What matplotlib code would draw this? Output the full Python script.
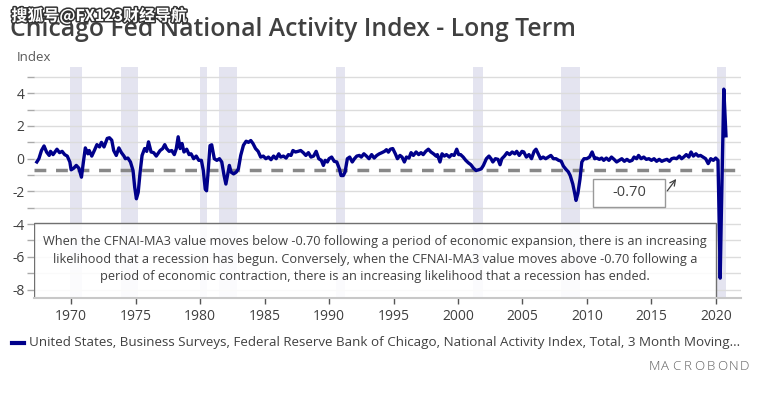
import matplotlib
matplotlib.use("Agg")
import matplotlib.pyplot as plt
import matplotlib.patheffects as pe
from matplotlib.patches import Rectangle

# CFNAI-MA3 (decimal year, index value)
years = [1967.34, 1967.5, 1967.7, 1967.9, 1968.1, 1968.3, 1968.4, 1968.6, 1968.9, 1969.1,
         1969.3, 1969.5, 1969.7, 1969.9, 1970.0, 1970.2, 1970.4, 1970.6, 1970.8, 1970.95,
         1971.1, 1971.3, 1971.4, 1971.6, 1971.8, 1972.0, 1972.2, 1972.35, 1972.55, 1972.8,
         1972.97, 1973.15, 1973.3, 1973.5, 1973.7, 1973.9, 1974.1, 1974.2, 1974.4, 1974.6,
         1974.8, 1974.93, 1975.06, 1975.2, 1975.35, 1975.5, 1975.7, 1975.86, 1976.0, 1976.2,
         1976.4, 1976.6, 1976.9, 1977.1, 1977.26, 1977.4, 1977.6, 1977.8, 1978.0, 1978.15,
         1978.3, 1978.45, 1978.6, 1978.75, 1978.96, 1979.15, 1979.3, 1979.5, 1979.7, 1979.9,
         1980.1, 1980.25, 1980.4, 1980.5, 1980.6, 1980.77, 1980.9, 1981.1, 1981.3, 1981.5,
         1981.68, 1981.86, 1982.0, 1982.15, 1982.27, 1982.4, 1982.6, 1982.8, 1982.97, 1983.15,
         1983.36, 1983.57, 1983.75, 1983.93, 1984.1, 1984.3, 1984.5, 1984.7, 1984.9, 1985.1,
         1985.3, 1985.5, 1985.7, 1985.9, 1986.1, 1986.25, 1986.46, 1986.67, 1986.85, 1987.05,
         1987.2, 1987.4, 1987.6, 1987.8, 1988.0, 1988.2, 1988.4, 1988.6, 1988.8, 1989.0,
         1989.2, 1989.4, 1989.56, 1989.7, 1989.87, 1990.0, 1990.2, 1990.4, 1990.6, 1990.8,
         1990.93, 1991.1, 1991.24, 1991.42, 1991.6, 1991.8, 1991.97, 1992.15, 1992.35, 1992.5,
         1992.7, 1992.9, 1993.1, 1993.3, 1993.5, 1993.7, 1993.9, 1994.1, 1994.3, 1994.45,
         1994.6, 1994.75, 1994.94, 1995.14, 1995.3, 1995.5, 1995.66, 1995.84, 1996.0, 1996.2,
         1996.36, 1996.54, 1996.75, 1996.95, 1997.13, 1997.3, 1997.5, 1997.7, 1997.9, 1998.1,
         1998.3, 1998.4, 1998.6, 1998.76, 1998.94, 1999.1, 1999.33, 1999.5, 1999.7, 1999.9,
         2000.05, 2000.2, 2000.4, 2000.6, 2000.8, 2001.0, 2001.2, 2001.4, 2001.6, 2001.8,
         2001.97, 2002.2, 2002.4, 2002.56, 2002.7, 2002.9, 2003.1, 2003.26, 2003.4, 2003.6,
         2003.8, 2004.0, 2004.2, 2004.4, 2004.55, 2004.75, 2004.96, 2005.1, 2005.3, 2005.5,
         2005.7, 2005.9, 2006.05, 2006.25, 2006.4, 2006.6, 2006.8, 2007.0, 2007.2, 2007.4,
         2007.6, 2007.8, 2008.0, 2008.17, 2008.37, 2008.55, 2008.7, 2008.9, 2009.07, 2009.15,
         2009.3, 2009.46, 2009.6, 2009.77, 2009.98, 2010.2, 2010.4, 2010.6, 2010.75, 2010.96,
         2011.14, 2011.3, 2011.5, 2011.7, 2011.9, 2012.1, 2012.3, 2012.5, 2012.7, 2012.9,
         2013.1, 2013.3, 2013.5, 2013.65, 2013.85, 2014.0, 2014.2, 2014.4, 2014.6, 2014.8,
         2015.0, 2015.2, 2015.4, 2015.6, 2015.8, 2015.97, 2016.2, 2016.4, 2016.57, 2016.75,
         2016.95, 2017.16, 2017.34, 2017.5, 2017.7, 2017.9, 2018.07, 2018.25, 2018.45, 2018.63,
         2018.8, 2019.0, 2019.2, 2019.4, 2019.6, 2019.8, 2019.98, 2020.16, 2020.25, 2020.33,
         2020.42, 2020.52, 2020.61, 2020.78]
values = [-0.2, 0.0, 0.5, 0.78, 0.4, 0.2, 0.45, 0.25, 0.58, 0.37,
          0.45, 0.25, 0.16, -0.2, -0.68, -0.58, -0.41, -0.58, -1.13, -0.2,
          0.66, 0.3, 0.5, 0.16, 0.5, 0.86, 0.72, 1.0, 0.72, 1.24,
          1.28, 1.13, 0.5, 0.2, 0.66, 0.37, 0.16, 0.0, 0.04, -0.2,
          -0.72, -1.75, -2.45, -2.06, -0.82, 0.2, 0.62, 0.45, 1.03, 0.41,
          0.37, 0.16, 0.5, 0.62, 0.86, 0.62, 0.45, 0.5, 0.25, 0.6,
          1.34, 0.62, 0.93, 0.41, 0.58, 0.25, 0.3, 0.0, 0.16, -0.1,
          -0.1, -0.72, -1.86, -1.96, -1.03, 0.8, 0.85, 0.0, -0.1, 0.0,
          -0.2, -1.03, -1.55, -0.93, -0.41, -0.82, -0.93, -0.82, -0.62, 0.2,
          0.82, 1.07, 1.0, 1.11, 0.93, 0.62, 0.45, 0.1, 0.16, 0.0,
          0.1, -0.06, 0.16, 0.0, 0.3, 0.1, 0.16, 0.04, 0.25, 0.2,
          0.5, 0.41, 0.45, 0.5, 0.37, 0.2, 0.37, 0.1, 0.16, 0.45,
          0.0, -0.1, -0.41, -0.1, -0.2, 0.0, 0.1, -0.16, -0.2, -0.62,
          -1.03, -1.03, -0.82, 0.0, 0.1, -0.2, 0.0, 0.16, 0.2, 0.1,
          0.3, 0.16, 0.0, 0.25, 0.04, 0.2, 0.3, 0.37, 0.45, 0.55,
          0.4, 0.58, 0.62, 0.3, 0.0, 0.2, 0.1, -0.2, 0.1, 0.04,
          0.37, 0.2, 0.41, 0.25, 0.37, 0.25, 0.45, 0.58, 0.41, 0.3,
          0.16, 0.25, -0.2, 0.3, 0.16, 0.25, 0.1, 0.25, 0.2, 0.58,
          0.25, 0.25, 0.1, -0.1, -0.25, -0.37, -0.58, -0.72, -0.68, -0.62,
          -0.41, 0.0, 0.16, 0.0, -0.2, 0.0, -0.04, -0.37, 0.0, 0.16,
          0.37, 0.25, 0.41, 0.3, 0.45, 0.2, 0.45, 0.41, 0.1, 0.25,
          0.0, 0.45, 0.58, 0.25, 0.0, 0.1, 0.0, 0.1, 0.2, 0.0,
          0.0, -0.1, -0.15, -0.45, -0.65, -0.8, -1.03, -1.55, -2.2, -2.55,
          -2.1, -1.24, -0.2, 0.0, 0.0, 0.1, 0.41, 0.0, 0.04, -0.04,
          0.04, -0.1, 0.04, -0.1, 0.1, -0.04, -0.2, -0.1, 0.0, -0.16,
          -0.04, -0.16, -0.1, 0.1, 0.0, 0.2, 0.0, 0.1, -0.04, 0.0,
          -0.1, 0.0, -0.16, -0.04, -0.16, -0.1, -0.04, -0.16, 0.0, 0.04,
          0.0, 0.16, 0.0, 0.1, 0.25, 0.1, 0.41, 0.16, 0.3, 0.16,
          0.2, 0.1, 0.0, -0.3, 0.0, -0.1, 0.04, -0.1, -3.7, -7.3,
          -3.4, 0.5, 4.25, 1.4]

# NBER recessions as drawn (start, end)
rec_start = [1969.9, 1973.85, 1980.0, 1981.5, 1990.5, 2001.2, 2007.95, 2020.1]
rec_end = [1970.85, 1975.2, 1980.5, 1982.85, 1991.2, 2001.9, 2009.45, 2020.8]

threshold = -0.70
xticks = list(range(1970, 2021, 5))
yticks = list(range(-8, 6))

title = "Chicago Fed National Activity Index - Long Term"
legend_label = ("United States, Business Surveys, Federal Reserve Bank of Chicago, "
                "National Activity Index, Total, 3 Month Moving...")
note = ("When the CFNAI-MA3 value moves below -0.70 following a period of economic expansion, there is an increasing\n"
        "likelihood that a recession has begun. Conversely, when the CFNAI-MA3 value moves above -0.70 following a\n"
        "period of economic contraction, there is an increasing likelihood that a recession has ended.")

plt.rcParams['font.family'] = ['Open Sans', 'DejaVu Sans']

fig = plt.figure(figsize=(7.64, 3.97), dpi=100)
ax = fig.add_axes([0.045, 0.25, 0.925, 0.581])
ax.set_xlim(1967.15, 2021.95)
ax.set_ylim(-8.5, 5.6)

# recession shading
for s, e in zip(rec_start, rec_end):
    ax.axvspan(s, e, color='#e4e4f0', lw=0, zorder=0)

# grid
for v in yticks:
    ax.axhline(v, color='#dcdcdc', lw=1, zorder=1)

# threshold
ax.axhline(threshold, color='#888888', lw=2.5, dashes=(3.4, 2.8), zorder=3)

# note box
ax.add_patch(Rectangle((1967.15, -8.5), 2020.0 - 1967.15, -3.94 + 8.5, facecolor='white',
                       alpha=0.88, edgecolor='none', zorder=4))
ax.add_patch(Rectangle((1967.15, -8.5), 2020.0 - 1967.15, -3.94 + 8.5, facecolor='none',
                       edgecolor='#707070', lw=1, zorder=4.5))
ax.text((1967.15 + 2020.0) / 2, -6.15, note, ha='center', va='center', fontsize=9.2,
        color='#404040', linespacing=1.45, zorder=5)

# series
ax.plot(years, values, color='#00008b', lw=2.4, solid_joinstyle='round', zorder=6)

# -0.70 label
ax.add_patch(Rectangle((2010.47, -2.94), 5.58, 1.71, facecolor='white', edgecolor='#999999',
                       lw=1, zorder=6))
ax.text(2013.26, -2.08, "-0.70", ha='center', va='center', fontsize=10.5, color='#404040', zorder=7)
ax.annotate("", xy=(2017.05, -1.1), xytext=(2016.1, -2.1),
            arrowprops=dict(arrowstyle='->', color='#404040', lw=0.9), zorder=6)

# axes styling
for side in ['left', 'top', 'right']:
    ax.spines[side].set_visible(False)
ax.spines['bottom'].set_color('#c8c8c8')
ax.spines['bottom'].set_linewidth(1.5)
ax.spines['bottom'].set_zorder(7)

ax.set_xticks(xticks)
ax.set_xticklabels([str(x) for x in xticks])
ax.set_yticks(yticks)
ax.set_yticklabels([str(v) if v % 2 == 0 else '' for v in yticks])
ax.tick_params(axis='x', length=4, width=1, color='#555555', labelsize=10, labelcolor='#404040', pad=4)
ax.tick_params(axis='y', length=5, width=1, color='#aaaaaa', labelsize=10, labelcolor='#404040', pad=2)

# texts
fig.text(0.013, 0.925, title, fontsize=17.8, fontweight='semibold', color='#404040', ha='left', va='center')
fig.text(0.022, 0.856, "Index", fontsize=9.5, color='#595959', ha='left', va='center')
wm = fig.text(0.015, 0.96, "搜狐号@FX123财经导航", fontsize=11.5, color='white', ha='left', va='center',
              family=['Noto Sans CJK SC', 'DejaVu Sans'], fontweight='bold')
wm.set_path_effects([pe.withStroke(linewidth=2.2, foreground='#333333')])

# legend
fig.add_artist(plt.Line2D([0.016, 0.032], [0.137, 0.137], color='#00008b', lw=3))
fig.text(0.038, 0.137, legend_label, fontsize=9.6, color='#404040', ha='left', va='center')

# logo
logo = "MACROBOND"
for i, ch in enumerate(logo):
    fig.text(0.856 + i * 0.0148, 0.076, ch, fontsize=9.5, color='#606060', ha='center', va='center',
             fontweight='light')

fig.savefig('out.png', dpi=100)
